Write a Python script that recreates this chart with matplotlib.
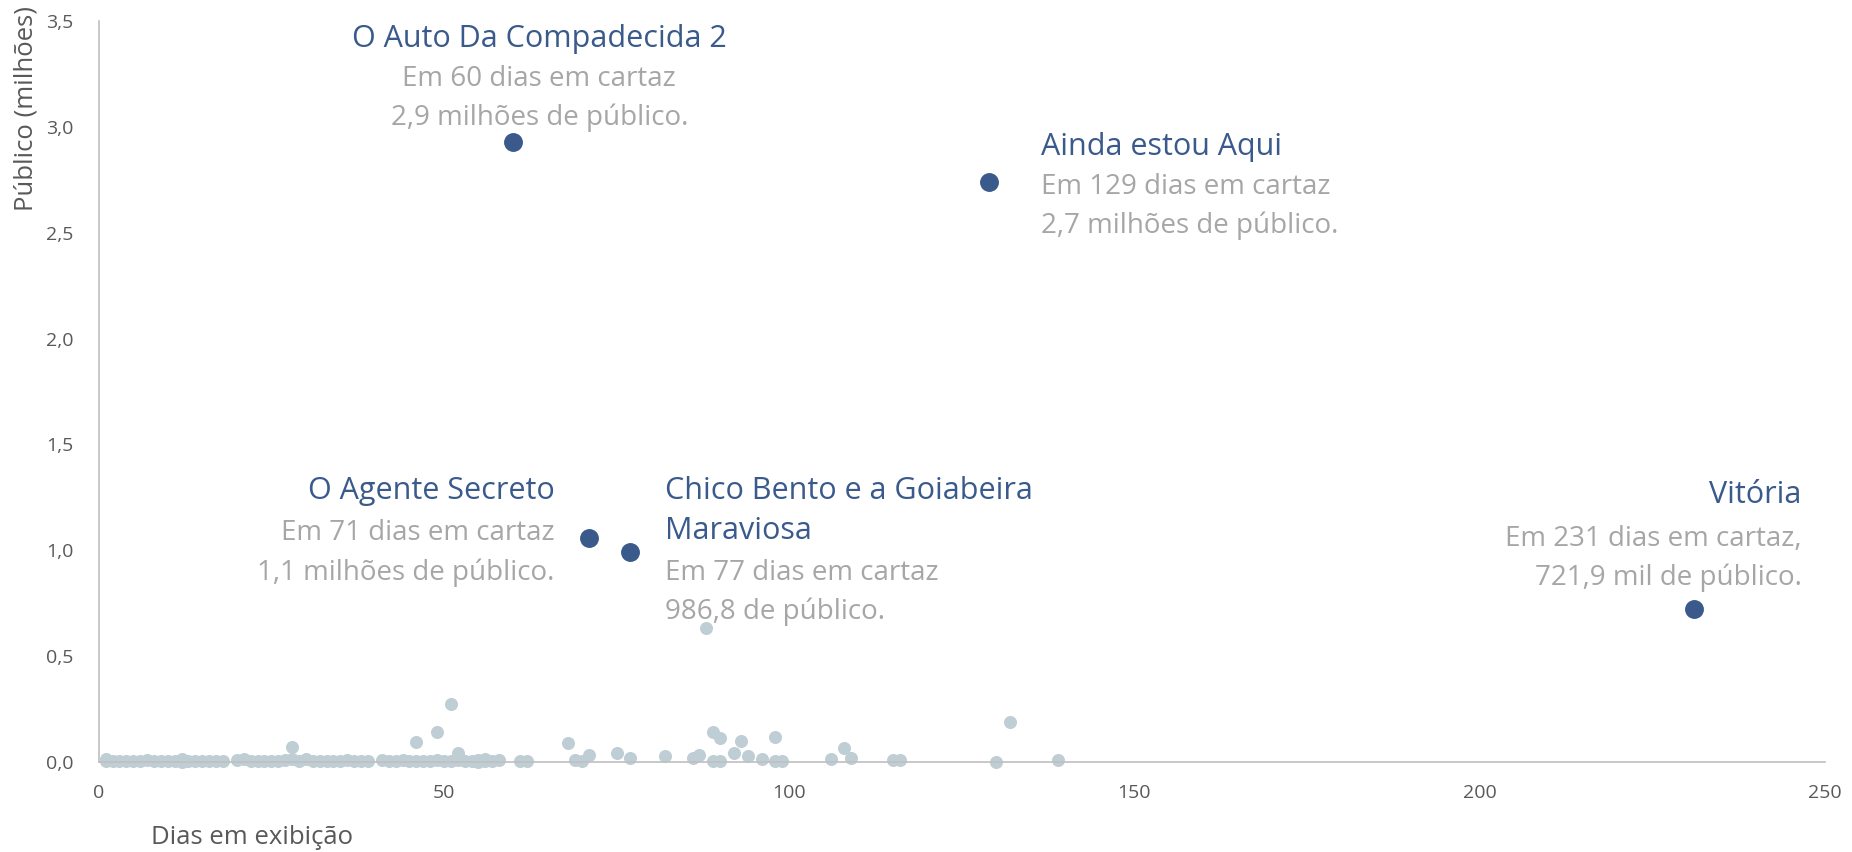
import matplotlib.pyplot as plt
from matplotlib.ticker import FuncFormatter

plt.rcParams['font.family'] = ['Open Sans', 'DejaVu Sans']

# filmes em destaque
filmes = ['O Auto Da Compadecida 2', 'Ainda estou Aqui', 'O Agente Secreto',
          'Chico Bento e a Goiabeira\nMaraviosa', 'Vitória']
dias_destaque = [60, 129, 71, 77, 231]
publico_destaque = [2.93, 2.74, 1.06, 0.99, 0.72]
descricoes = ['Em 60 dias em cartaz\n2,9 milhões de público.',
              'Em 129 dias em cartaz\n2,7 milhões de público.',
              'Em 71 dias em cartaz\n1,1 milhões de público.',
              'Em 77 dias em cartaz\n986,8 de público.',
              'Em 231 dias em cartaz,\n721,9 mil de público.']

# demais filmes
dias_outros = [1, 1, 2, 3, 4, 5, 6, 7, 8, 9, 10, 11, 12, 12, 13, 14, 15, 16, 17, 18,
               20, 21, 22, 23, 24, 25, 26, 27, 28, 28, 29, 30, 31, 32, 33, 34, 35, 36,
               37, 38, 39, 41, 42, 43, 44, 45, 46, 46, 47, 48, 49, 49, 50, 51, 51, 52,
               52, 53, 54, 55, 55, 56, 56, 57, 58, 61, 62, 68, 69, 70, 71, 75, 77, 82,
               86, 87, 88, 89, 89, 90, 90, 92, 93, 94, 96, 98, 98, 99, 106, 108, 109,
               115, 116, 130, 132, 139]
publico_outros = [0.005, 0.012, 0.004, 0.006, 0.003, 0.005, 0.004, 0.008, 0.003, 0.005,
                  0.004, 0.006, 0.012, 0.0, 0.005, 0.004, 0.003, 0.006, 0.004, 0.005,
                  0.008, 0.015, 0.005, 0.004, 0.006, 0.003, 0.005, 0.007, 0.071, 0.015,
                  0.006, 0.014, 0.005, 0.004, 0.003, 0.006, 0.005, 0.008, 0.004, 0.006,
                  0.005, 0.010, 0.004, 0.006, 0.008, 0.005, 0.092, 0.006, 0.004, 0.005,
                  0.142, 0.007, 0.005, 0.272, 0.004, 0.040, 0.008, 0.003, 0.006, 0.010,
                  0.0, 0.005, 0.012, 0.004, 0.010, 0.004, 0.002, 0.087, 0.010, 0.002,
                  0.030, 0.043, 0.020, 0.027, 0.020, 0.032, 0.631, 0.142, 0.002, 0.114,
                  0.002, 0.040, 0.098, 0.029, 0.013, 0.119, 0.002, 0.006, 0.013, 0.067,
                  0.016, 0.010, 0.010, 0.0, 0.190, 0.008]

azul = '#3A5A8C'
cinza_ponto = '#BFCDD4'
cinza_texto = '#A6A6A6'
eixo = '#BFBFBF'

fig = plt.figure(figsize=(18.52, 8.52), dpi=100)
ax = fig.add_axes([98.7 / 1852, 1 - 761.8 / 852, (1824.9 - 98.7) / 1852, (761.8 - 21.3) / 852])

ax.scatter(dias_outros, publico_outros, s=88, color=cinza_ponto, linewidths=0,
           zorder=2, clip_on=False)
ax.scatter(dias_destaque, publico_destaque, s=185, color=azul, linewidths=0,
           zorder=3, clip_on=False)

ax.set_xlim(0, 250)
ax.set_ylim(0, 3.5)
ax.set_xticks([0, 50, 100, 150, 200, 250])
ax.set_yticks([0, 0.5, 1.0, 1.5, 2.0, 2.5, 3.0, 3.5])
ax.yaxis.set_major_formatter(FuncFormatter(lambda v, p: f'{v:.1f}'.replace('.', ',')))
ax.tick_params(length=0, labelsize=14, labelcolor='#595959')
ax.tick_params(axis='y', pad=18)
ax.tick_params(axis='x', pad=16)
for s in ['top', 'right']:
    ax.spines[s].set_visible(False)
for s in ['left', 'bottom']:
    ax.spines[s].set_color(eixo)
    ax.spines[s].set_linewidth(1.2)

fig.text(26 / 1852, 1 - 6 / 852, 'Público (milhões)', rotation=90, ha='center', va='top',
         fontsize=18.5, color='#595959')
fig.text(151 / 1852, 1 - 838 / 852, 'Dias em exibição', ha='left', va='center',
         fontsize=18.5, color='#595959')

# anotações: (x, y, alinhamento)
pos_titulo = [(63.8, 3.416, 'center'), (136.4, 2.905, 'left'), (66.0, 1.28, 'right'),
              (82.0, 1.186, 'left'), (246.6, 1.262, 'right')]
pos_desc = [(63.8, 3.135, 'center'), (136.4, 2.624, 'left'), (66.0, 0.987, 'right'),
            (82.0, 0.80, 'left'), (246.6, 0.962, 'right')]

for i in range(len(filmes)):
    x, y, ha = pos_titulo[i]
    ax.text(x, y, filmes[i], ha=ha, va='center', fontsize=22, color=azul,
            linespacing=1.42)
    x, y, ha = pos_desc[i]
    ax.text(x, y, descricoes[i], ha=ha, va='center', fontsize=20, color=cinza_texto,
            linespacing=1.5)

fig.savefig('out.png', dpi=100)
